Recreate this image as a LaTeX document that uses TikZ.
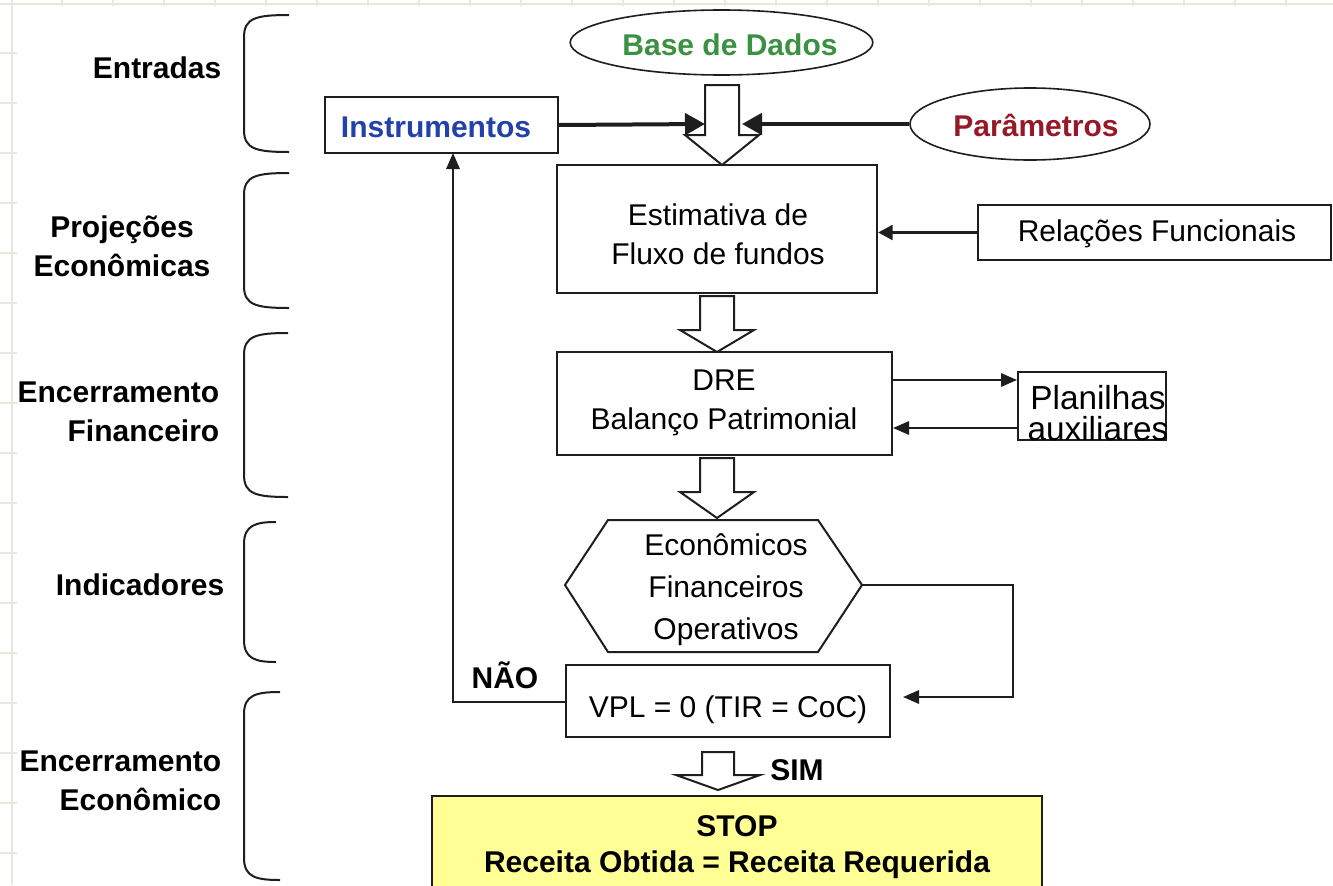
\documentclass[tikz,border=0pt]{standalone}
\usepackage{fontspec}
\setmainfont{Liberation Sans}
\usetikzlibrary{arrows.meta,shapes.geometric}
\definecolor{gridc}{RGB}{232,232,220}
\definecolor{dgreen}{RGB}{58,145,65}
\definecolor{dblue}{RGB}{35,65,170}
\definecolor{dred}{RGB}{150,25,40}
\definecolor{stopy}{RGB}{255,255,150}
\definecolor{ink}{RGB}{30,30,30}
\newcommand\hollowarr[6]{% x, ytop, yhead, ytip, halfshaft, halfhead
  \draw[hol] ({#1-#5},#2) -- ({#1+#5},#2) -- ({#1+#5},#3) -- ({#1+#6},#3) -- (#1,#4) -- ({#1-#6},#3) -- ({#1-#5},#3) -- cycle;}
\tikzset{
  box/.style={draw=ink, line width=1.5pt, inner sep=0pt, align=center, fill=white},
  oval/.style={ellipse, draw=ink, line width=1.2pt, inner sep=0pt, fill=white},
  lbl/.style={font=\fontsize{22.5}{29}\selectfont\bfseries, align=right, anchor=east},
  hol/.style={draw=ink, line width=1.5pt, fill=white},
  brk/.style={draw=ink, line width=1.5pt},
  thickarr/.style={draw=ink, line width=3pt, -{Triangle[length=15pt,width=16pt]}},
  conn/.style={draw=ink, line width=1.5pt, -{Triangle[length=12pt,width=10pt]}},
  plain/.style={draw=ink, line width=1.5pt}
}
\newcommand\bracketL[3]{% ytop, ybot, xend
  \draw[brk] (#3,#1) .. controls (256,#1) and (244,{#1+3}) .. (244,{#1+22}) -- (244,{#2-22}) .. controls (244,{#2-3}) and (256,#2) .. (#3,#2);}
\begin{document}
\begin{tikzpicture}[x=0.75pt, y=-0.75pt, font=\fontsize{22.5}{29}\selectfont]
\useasboundingbox (0,0) rectangle (1333,885);
\clip (0,0) rectangle (1333,885);
\fill[white] (0,0) rectangle (1333,885);
% faint background grid
\draw[gridc, line width=0.8pt] (12,0) -- (12,885) (0,4) -- (1333,4);
\foreach \yy in {53,103,...,853} \draw[gridc, line width=0.8pt] (0,\yy) -- (17,\yy);
\foreach \xx in {62,113,...,1333} \draw[gridc, line width=0.8pt] (\xx,0) -- (\xx,6);

% left labels and brackets
\node[lbl] (lE) at (226,68) {Entradas};
\node[lbl, align=center, anchor=center] (lP) at (122,246) {Projeções\\Econômicas};
\node[lbl] (lF) at (224,412) {Encerramento\\Financeiro};
\node[lbl] (lI) at (229,585) {Indicadores};
\node[lbl] (lC) at (226,781) {Encerramento\\Econômico};
\bracketL{15}{152}{289}
\bracketL{173}{308}{289}
\bracketL{333}{497}{288}
\bracketL{522}{662}{276}
\bracketL{692}{880}{280}

% top inputs
\node[oval, minimum width=227pt, minimum height=48.75pt] (bd) at (721.5,42.5) {};
\node[font=\fontsize{22.5}{29}\selectfont\bfseries, text=dgreen] (bdT) at (730,45) {Base de Dados};
\node[box, minimum width=174.75pt, minimum height=42pt] (instr) at (441.5,125) {};
\node[font=\fontsize{22.5}{29}\selectfont\bfseries, text=dblue] (instrT) at (436,127) {Instrumentos};
\node[oval, minimum width=180pt, minimum height=54pt] (par) at (1030,124) {};
\node[font=\fontsize{22.5}{29}\selectfont\bfseries, text=dred] (parT) at (1036,125) {Parâmetros};

% hollow arrow 1
\hollowarr{722}{85}{135}{165}{17}{37}
\coordinate (hinL) at (705,124);
\coordinate (hinR) at (742,124);
\draw[thickarr] (instr.east) -- (hinL);
\draw[thickarr] (par.west) -- (hinR);

% estimativa
\node[box, minimum width=240pt, minimum height=96pt] (est) at (717,229) {};
\node[align=center] (estT) at (718,234) {Estimativa de\\Fluxo de fundos};
\node[box, minimum width=264.75pt, minimum height=41.25pt] (rel) at (1154.5,232.5) {};
\node (relT) at (1157,234) {Relações Funcionais};
\draw[draw=ink, line width=2.5pt, -{Triangle[length=11pt,width=11pt]}] (rel.west) -- (rel.west -| est.east);

% hollow arrow 2
\hollowarr{717}{296}{330}{352}{17}{37}

% DRE
\node[box, minimum width=251.25pt, minimum height=77.25pt] (dre) at (724.5,403.5) {};
\node[align=center] (dreT) at (724,403) {DRE\\Balanço Patrimonial};
\node[box, minimum width=111pt, minimum height=51pt] (plan) at (1092,406) {};
\node[align=center, font=\fontsize{25}{23.5}\selectfont] (planT) at (1098,413) {Planilhas\\auxiliares};
\coordinate (pa) at (0,380);
\coordinate (pb) at (0,428);
\draw[conn] (dre.east |- pa) -- (plan.west |- pa);
\draw[conn] (plan.west |- pb) -- (dre.east |- pb);

% hollow arrow 3
\hollowarr{717}{458}{492}{518}{17}{37}

% hexagon
\draw[draw=ink, line width=1.5pt, fill=white] (565,585) -- (608,520) -- (818,520) -- (862,585) -- (818,652) -- (608,652) -- cycle;
\node[align=center, font=\fontsize{22.5}{31.5}\selectfont] (hex) at (726,590) {Econômicos\\Financeiros\\Operativos};
\coordinate (hexR) at (862,585);

% VPL
\node[box, minimum width=243pt, minimum height=54pt] (vpl) at (728,701) {};
\node (vplT) at (728,710) {VPL = 0 (TIR = CoC)};
\coordinate (vin) at (903,697);
\draw[conn] (hexR) -- (1013,585) |- (vin);
\coordinate (fb) at (453,153);
\draw[conn] (vpl.west |- 0,702) -| (fb);
\node[font=\fontsize{22.5}{29}\selectfont\bfseries] (nao) at (505,675) {NÃO};

% hollow arrow 4
\hollowarr{718}{752}{775}{790}{16}{42}
\node[font=\fontsize{22.5}{29}\selectfont\bfseries] (sim) at (797,770) {SIM};

% STOP
\node[box, fill=stopy, minimum width=457.5pt, minimum height=72pt] (stop) at (737,844) {};
\node[align=center, font=\fontsize{22.5}{27}\selectfont\bfseries] (stopT) at (737,847) {STOP\\Receita Obtida = Receita Requerida};
\end{tikzpicture}
\end{document}
